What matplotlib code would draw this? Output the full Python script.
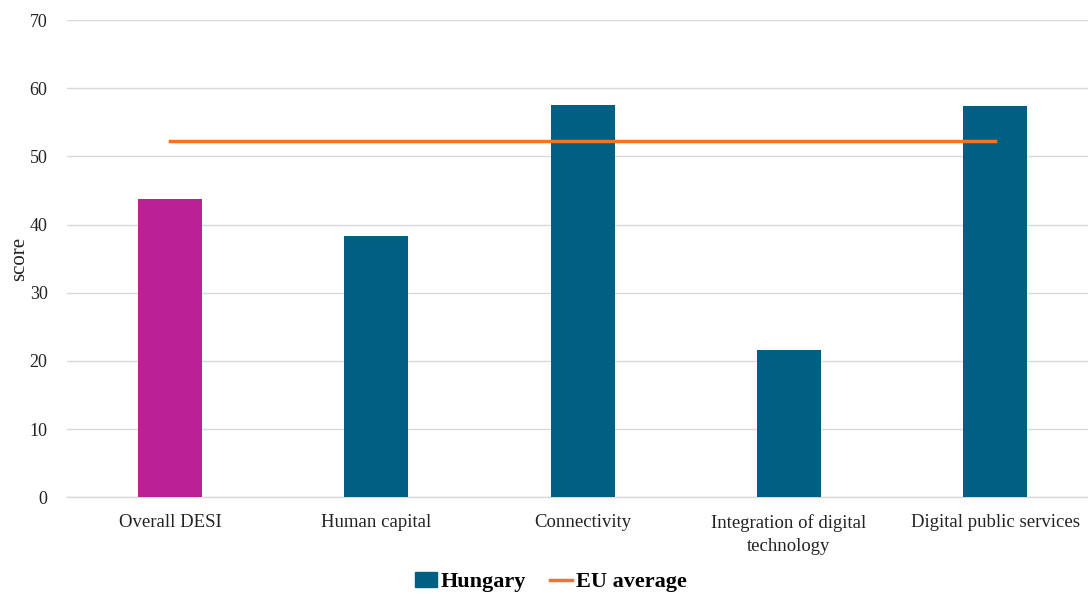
import matplotlib
matplotlib.use("Agg")
import matplotlib.pyplot as plt
from matplotlib.patches import Patch
from matplotlib.lines import Line2D

categories = ["Overall DESI", "Human capital", "Connectivity",
              "Integration of digital\ntechnology", "Digital public services"]
hungary = [43.7, 38.3, 57.6, 21.6, 57.4]
eu_average = [52.2, 52.2, 52.2, 52.2, 52.2]
yticks = [0, 10, 20, 30, 40, 50, 60, 70]

teal = "#005f83"
magenta = "#b92194"
orange = "#f4732a"
colors = [magenta] + [teal] * (len(categories) - 1)

plt.rcParams["font.family"] = ["Liberation Serif", "DejaVu Serif"]

fig = plt.figure(figsize=(10.88, 5.94), dpi=100)
ax = fig.add_axes([0.0616, 0.163, 0.9384, 0.803])

x = list(range(len(categories)))
ax.bar(x, hungary, width=0.31, color=colors, zorder=3)
ax.plot(x, eu_average, color=orange, linewidth=2.5, zorder=4)

ax.set_ylim(0, 70)
ax.set_xlim(-0.5, 4.45)
ax.set_yticks(yticks)
ax.set_xticks(x)
ax.set_xticklabels(categories, fontsize=13.5, color="#222222", linespacing=1.5)
ax.tick_params(axis="y", labelsize=13, colors="#222222", length=0, pad=14)
ax.tick_params(axis="x", length=0, pad=12)
ax.grid(axis="y", color="#d9d9d9", linewidth=1, zorder=0)
for s in ["top", "right", "left"]:
    ax.spines[s].set_visible(False)
ax.spines["bottom"].set_color("#d9d9d9")
ax.spines["bottom"].set_linewidth(1)
ax.set_ylabel("score", fontsize=15, color="#222222")
ax.yaxis.set_label_coords(-0.037, 0.5)

handles = [Patch(facecolor=teal, edgecolor=teal),
           Line2D([0], [0], color=orange, linewidth=2.5)]
fig.legend(handles, ["Hungary", "EU average"], loc="center",
           bbox_to_anchor=(0.506, 0.02), ncol=2, frameon=False,
           prop={"weight": "bold", "size": 16}, handlelength=1.0,
           handletextpad=0.15, columnspacing=1.1)

fig.savefig("out.png", dpi=100)
